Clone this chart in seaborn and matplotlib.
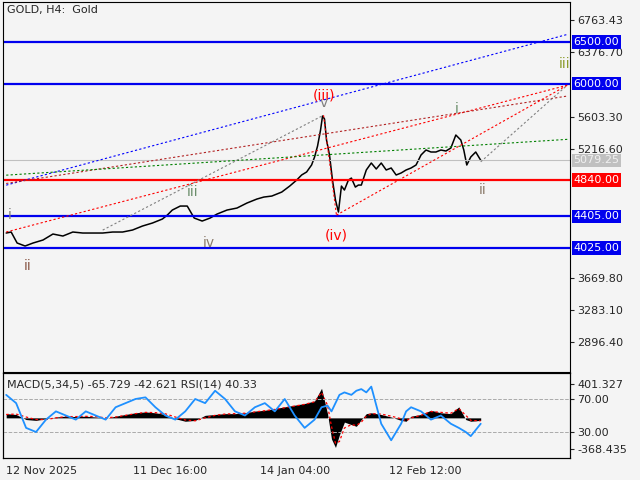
import matplotlib
matplotlib.use("Agg")
import numpy as np
import pandas as pd
import matplotlib.pyplot as plt
import seaborn as sns

# bar position (chart x units) and close price
bar_x = [3, 8, 14, 22, 30, 40, 50, 60, 70, 80, 90, 100, 110, 120, 130, 140, 150, 160, 165, 170,
         178, 185, 192, 200, 208, 215, 225, 235, 245, 255, 262, 270, 280, 288, 295, 300, 305, 310,
         313, 316, 319, 321, 323, 325, 328, 331, 334, 337, 340, 343, 347, 350, 354, 357, 360, 365,
         370, 375, 380, 385, 390, 395, 400, 405, 410, 415, 420, 425, 430, 435, 440, 445, 450, 455,
         460, 463, 466, 470, 475, 480]
close = [4205, 4217, 4085, 4049, 4085, 4121, 4193, 4169, 4217, 4205, 4205, 4205, 4217, 4217, 4241,
         4289, 4325, 4373, 4421, 4481, 4529, 4529, 4385, 4349, 4385, 4433, 4481, 4505, 4565, 4613,
         4637, 4649, 4697, 4769, 4841, 4902, 4938, 5022, 5118, 5250, 5442, 5610, 5574, 5322, 5142,
         4841, 4602, 4457, 4769, 4721, 4841, 4865, 4757, 4781, 4781, 4962, 5046, 4974, 5046, 4962,
         4986, 4902, 4926, 4962, 4986, 5022, 5142, 5202, 5178, 5178, 5202, 5190, 5226, 5382, 5322,
         5202, 5022, 5118, 5178, 5079]

ind_x = [3, 13, 23, 33, 43, 53, 63, 73, 83, 93, 103, 113, 123, 133, 143, 153, 163, 173, 183, 193,
         203, 213, 223, 233, 243, 253, 263, 273, 283, 293, 303, 313, 320, 326, 330, 334, 338, 343,
         350, 355, 360, 365, 370, 380, 390, 400, 405, 410, 420, 430, 440, 450, 458, 465, 470, 480]
macd = [50, 40, -20, -30, -10, 10, 20, 15, 20, 10, -5, 20, 40, 60, 70, 60, 40, -10, -40, -30,
        30, 40, 50, 50, 60, 80, 90, 110, 130, 150, 170, 200, 350, 50, -250, -350, -200, -50,
        -80, -100, -20, 50, 60, 40, 10, -30, -40, 20, 40, 90, 60, 50, 130, -20, -40, -30]
signal = [40, 45, 10, -20, -20, 0, 15, 15, 18, 15, 0, 10, 30, 50, 65, 62, 48, 10, -25, -35,
          0, 30, 45, 50, 55, 70, 85, 100, 120, 140, 160, 190, 300, 150, -100, -300, -280, -120,
          -80, -90, -50, 20, 50, 45, 20, -10, -35, 0, 30, 75, 65, 55, 110, 30, -30, -35]
rsi = [75, 65, 35, 30, 45, 55, 50, 45, 55, 50, 45, 60, 65, 70, 72, 60, 50, 45, 55, 70,
       65, 80, 70, 55, 50, 60, 65, 55, 70, 50, 35, 45, 60, 62, 55, 65, 75, 78, 75, 80,
       82, 78, 85, 40, 20, 40, 55, 60, 55, 45, 50, 40, 35, 30, 25, 40]

h_levels = [6500.0, 6000.0, 4405.0, 4025.0]
red_level = 4840.0
last_price = 5079.25
price_ticks = [6763.43, 6376.70, 5603.30, 5216.60, 3669.80, 3283.10, 2896.40]
time_ticks = [3, 130, 258, 388]
time_labels = ["12 Nov 2025", "11 Dec 16:00", "14 Jan 04:00", "12 Feb 12:00"]

# trend lines: (x0, p0, x1, p1, colour)
trend_lines = [
    (3, 4780, 567, 6590, "blue"),
    (3, 4217, 567, 5980, "red"),
    (3, 4800, 567, 5850, "#b22222"),
    (3, 4900, 567, 5330, "green"),
    (335, 4420, 567, 5980, "red"),
    (322, 5620, 335, 4420, "red"),
    (100, 4240, 322, 5620, "grey"),
    (480, 5060, 567, 5980, "grey"),
]
waves = [(7, 4420, "i", "grey"), (25, 3810, "ii", "#8b5a4a"), (190, 4700, "iii", "#6b8e6b"),
         (207, 4080, "iv", "#8b7b6b"), (322, 5860, "(iii)", "red"), (322, 5770, "v", "grey"),
         (335, 4180, "(iv)", "red"), (456, 5690, "i", "#6b8e6b"), (482, 4720, "ii", "#8b7b6b"),
         (564, 6230, "iii", "#8b9b2b")]

bg = "#f4f4f4"
sns.set_style("white")
plt.rcParams["font.family"] = ["DejaVu Sans"]
fig = plt.figure(figsize=(6.4, 4.8), dpi=100, facecolor=bg)

def p2y(yp):
    return 6763.43 - (yp - 20) * 12.01

ax = fig.add_axes([0.005, 1 - 372 / 480, 0.886, 370 / 480])
ax.set_facecolor(bg)
ax.set_xlim(0, 570)
ax.set_ylim(p2y(372), p2y(2))
df = pd.DataFrame({"x": bar_x, "close": close})
sns.lineplot(data=df, x="x", y="close", ax=ax, color="black", lw=1.1)
for lv in h_levels:
    ax.axhline(lv, color="#0000ee", lw=1.6)
ax.axhline(red_level, color="red", lw=1.6)
ax.axhline(last_price, color="#c0c0c0", lw=0.8)
for x0, p0, x1, p1, c in trend_lines:
    ax.plot([x0, x1], [p0, p1], ls=(0, (2, 2)), color=c, lw=0.8)
for x, p, t, c in waves:
    ax.text(x, p, t, color=c, fontsize=10, ha="center", va="center")
ax.text(4, p2y(10), "GOLD, H4:  Gold", fontsize=8, va="center")
ax.yaxis.tick_right()
ax.set_yticks(price_ticks)
ax.set_yticklabels([f"{v:.2f}" for v in price_ticks], fontsize=8)
ax.tick_params(axis="y", length=3, pad=2)
ax.set_xticks([])
ax.set_xlabel("")
ax.set_ylabel("")
for lv in h_levels:
    ax.text(573, lv, f"{lv:.2f}", transform=ax.transData, fontsize=8, color="white", va="center",
            ha="left", bbox=dict(boxstyle="square,pad=0.15", fc="#0000ee", ec="none"), clip_on=False)
ax.text(573, red_level, f"{red_level:.2f}", fontsize=8, color="white", va="center", ha="left",
        bbox=dict(boxstyle="square,pad=0.15", fc="red", ec="none"), clip_on=False)
ax.text(573, last_price, f"{last_price:.2f}", fontsize=8, color="#f0f0f0", va="center", ha="left",
        bbox=dict(boxstyle="square,pad=0.15", fc="#c0c0c0", ec="none"), clip_on=False)
for s in ax.spines.values():
    s.set_color("black")
    s.set_linewidth(0.8)

# indicator panel
ax2 = fig.add_axes([0.005, 1 - 458 / 480, 0.886, 85 / 480])
ax2.set_facecolor(bg)
ax2.set_xlim(0, 570)
ax2.set_ylim(-475, 531)
ax2.fill_between(ind_x, 0, macd, color="black", lw=0)
ax2.plot(ind_x, signal, color="red", ls=(0, (2, 2)), lw=0.9)
ax3 = ax2.twinx()
ax3.set_ylim(-1.5, 101.5)
ax3.axhline(70, color="#aaaaaa", ls="--", lw=0.7)
ax3.axhline(30, color="#aaaaaa", ls="--", lw=0.7)
sns.lineplot(x=ind_x, y=rsi, ax=ax3, color="#1e90ff", lw=1.3)
ax3.set_yticks([70, 30])
ax3.set_yticklabels(["70.00", "30.00"], fontsize=8)
ax3.tick_params(axis="y", length=3, pad=2)
ax3.set_ylabel("")
ax2.yaxis.tick_right()
ax2.set_yticks([401.327, -368.435])
ax2.set_yticklabels(["401.327", "-368.435"], fontsize=8)
ax2.set_xticks(time_ticks)
ax2.set_xticklabels(time_labels, fontsize=8, ha="left")
ax2.tick_params(axis="x", length=4, pad=2)
ax2.tick_params(axis="y", length=3, pad=2)
ax3.text(4, 88, "MACD(5,34,5) -65.729 -42.621 RSI(14) 40.33", fontsize=8, va="center", zorder=5)
for s in list(ax2.spines.values()) + list(ax3.spines.values()):
    s.set_color("black")
    s.set_linewidth(0.8)

fig.savefig("out.png", dpi=100, facecolor=bg)
